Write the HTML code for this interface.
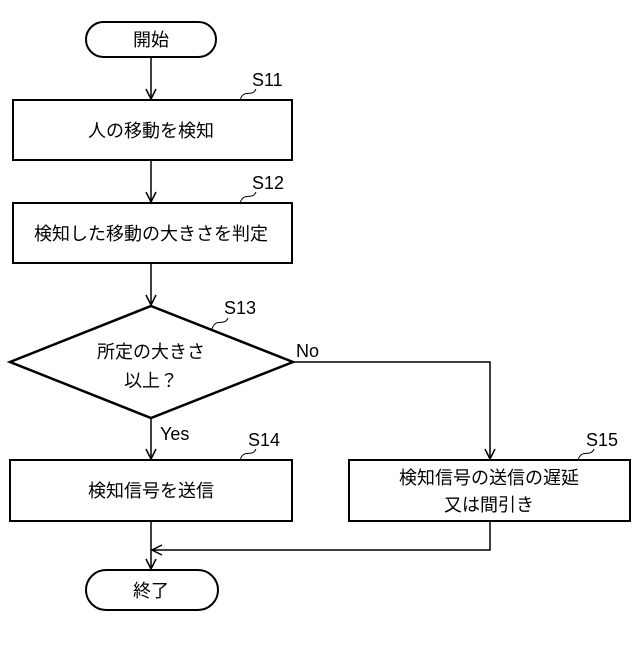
<!DOCTYPE html>
<html><head><meta charset="utf-8"><style>
body{margin:0;background:#fff}
svg text{font-family:"Liberation Sans","Noto Sans CJK JP",sans-serif;fill:#000}
</style></head><body>
<svg width="640" height="640" viewBox="0 0 640 640" xmlns="http://www.w3.org/2000/svg">
<defs><marker id="a" markerWidth="12" markerHeight="12" refX="11" refY="6" orient="auto" markerUnits="userSpaceOnUse" viewBox="0 0 12 12"><path d="M1,1 L11,6 L1,11" fill="none" stroke="#000" stroke-width="1.5"/></marker></defs>
<g stroke="#000" fill="none" stroke-width="1.5">
<rect x="86" y="22" width="130" height="35" rx="17.5" stroke-width="2"/>
<line x1="151" y1="57" x2="151" y2="99" marker-end="url(#a)"/>
<rect x="13" y="100" width="279" height="60" stroke-width="2"/>
<line x1="151" y1="160" x2="151" y2="202" marker-end="url(#a)"/>
<rect x="13" y="203" width="279" height="60" stroke-width="2"/>
<line x1="151" y1="263" x2="151" y2="305" marker-end="url(#a)"/>
<path d="M151,306 L293,362 L151,418 L10,362 Z" stroke-width="2.5"/>
<line x1="151" y1="418" x2="151" y2="459" marker-end="url(#a)"/>
<polyline points="293,362 490,362 490,459" marker-end="url(#a)"/>
<rect x="10" y="460" width="282" height="61" stroke-width="2"/>
<rect x="349" y="460" width="281" height="61" stroke-width="2"/>
<polyline points="490,521 490,550 152,550" marker-end="url(#a)"/>
<line x1="151" y1="521" x2="151" y2="569" marker-end="url(#a)"/>
<rect x="86" y="570" width="132" height="40" rx="20" stroke-width="2"/>
<path d="M240,100 C244,88 252,98 256,89" stroke-width="1"/>
<path d="M240,203 C244,191 252,201 256,192" stroke-width="1"/>
<path d="M212,329 C216,317 224,327 228,318" stroke-width="1"/>
<path d="M240,460 C244,448 252,458 256,449" stroke-width="1"/>
<path d="M578,460 C582,448 590,458 594,449" stroke-width="1"/>
</g>
<g font-size="18" text-anchor="middle">
<text x="151" y="46">開始</text>
<text x="151" y="137">人の移動を検知</text>
<text x="151" y="240">検知した移動の大きさを判定</text>
<text x="151" y="358">所定の大きさ</text>
<text x="151" y="387">以上？</text>
<text x="151" y="497">検知信号を送信</text>
<text x="489" y="484">検知信号の送信の遅延</text>
<text x="489" y="511">又は間引き</text>
<text x="151" y="597">終了</text>
</g>
<g font-size="18">
<text x="252" y="86">S11</text>
<text x="252" y="189">S12</text>
<text x="224" y="314">S13</text>
<text x="296" y="357">No</text>
<text x="160" y="440">Yes</text>
<text x="248" y="446">S14</text>
<text x="586" y="446">S15</text>
</g>
</svg>
</body></html>
